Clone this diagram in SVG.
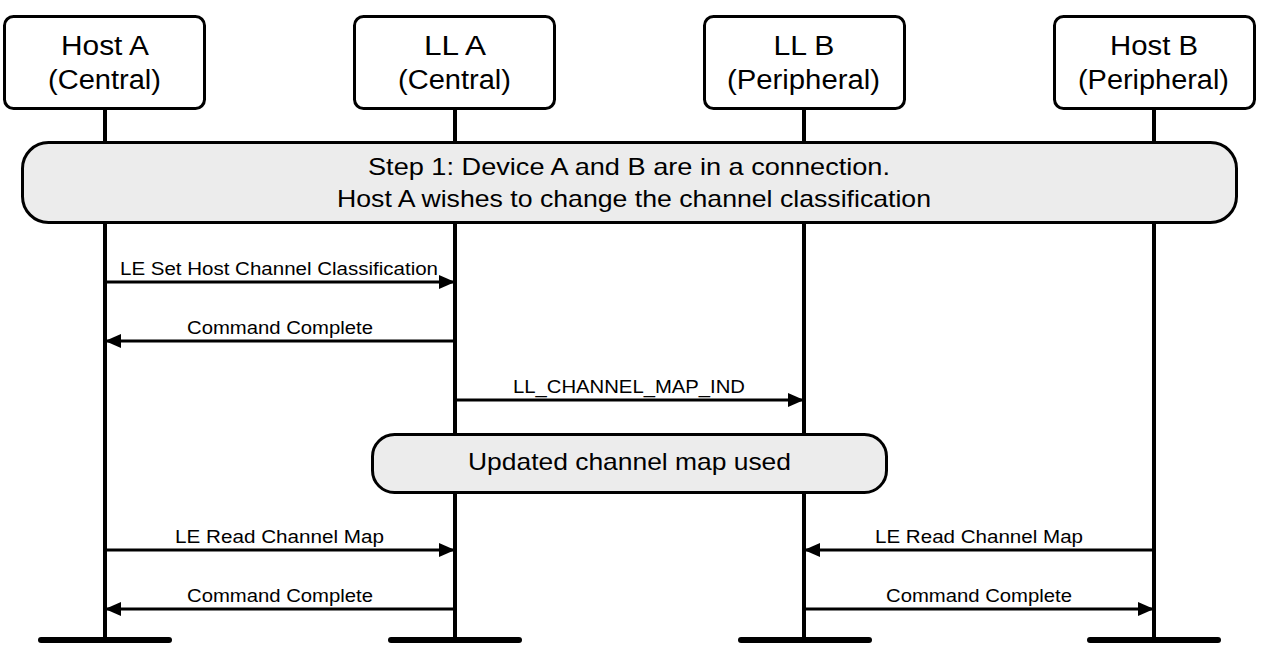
<svg xmlns="http://www.w3.org/2000/svg" width="1263" height="650" viewBox="0 0 1263 650">
<style>
.box{fill:#fff;stroke:#000;stroke-width:3}
.band{fill:#ececec;stroke:#000;stroke-width:3}
.life{stroke:#000;stroke-width:4}
.base{stroke:#000;stroke-width:6;stroke-linecap:round}
.msg{stroke:#000;stroke-width:3;fill:none}
.t{font-family:"Liberation Sans",Arial,sans-serif;fill:#000;text-anchor:middle}
.nt{font-size:27px}
.bt{font-size:24px}
.mt{font-size:17.5px}
</style>
<defs>
<marker id="ah" markerUnits="userSpaceOnUse" markerWidth="18" markerHeight="14" refX="16" refY="7" orient="auto">
<path d="M0,0 L16,7 L0,14 Z" fill="#000"/>
</marker>
</defs>
<g id="lifelines">
<line class="life" x1="105" y1="109" x2="105" y2="640"/>
<line class="life" x1="455" y1="109" x2="455" y2="640"/>
<line class="life" x1="804" y1="109" x2="804" y2="640"/>
<line class="life" x1="1154" y1="109" x2="1154" y2="640"/>
<line class="base" x1="41" y1="640" x2="169" y2="640"/>
<line class="base" x1="391" y1="640" x2="519" y2="640"/>
<line class="base" x1="741" y1="640" x2="869" y2="640"/>
<line class="base" x1="1090" y1="640" x2="1218" y2="640"/>
</g>
<g id="hostA">
<rect class="box" x="4.5" y="16.5" width="200" height="92" rx="9"/>
<text class="t nt" x="105" y="55" textLength="88" lengthAdjust="spacingAndGlyphs">Host A</text>
<text class="t nt" x="104.5" y="89" textLength="113" lengthAdjust="spacingAndGlyphs">(Central)</text>
</g>
<g id="llA">
<rect class="box" x="354.5" y="16.5" width="200" height="92" rx="9"/>
<text class="t nt" x="455" y="55" textLength="62" lengthAdjust="spacingAndGlyphs">LL A</text>
<text class="t nt" x="454.5" y="89" textLength="113" lengthAdjust="spacingAndGlyphs">(Central)</text>
</g>
<g id="llB">
<rect class="box" x="704.5" y="16.5" width="200" height="92" rx="9"/>
<text class="t nt" x="804" y="55" textLength="61" lengthAdjust="spacingAndGlyphs">LL B</text>
<text class="t nt" x="803.5" y="89" textLength="153" lengthAdjust="spacingAndGlyphs">(Peripheral)</text>
</g>
<g id="hostB">
<rect class="box" x="1054.5" y="16.5" width="200" height="92" rx="9"/>
<text class="t nt" x="1154" y="55" textLength="88" lengthAdjust="spacingAndGlyphs">Host B</text>
<text class="t nt" x="1153.5" y="89" textLength="151" lengthAdjust="spacingAndGlyphs">(Peripheral)</text>
</g>
<g id="step1">
<rect class="band" x="22.5" y="142.5" width="1214" height="80" rx="26"/>
<text class="t bt" x="629" y="175" textLength="522" lengthAdjust="spacingAndGlyphs">Step 1:  Device A and B are in a connection.</text>
<text class="t bt" x="634" y="207" textLength="594" lengthAdjust="spacingAndGlyphs">Host A wishes to change the channel classification</text>
</g>
<g id="updated">
<rect class="band" x="372.5" y="434.5" width="514" height="58" rx="22"/>
<text class="t bt" x="629.5" y="470" textLength="323" lengthAdjust="spacingAndGlyphs">Updated channel map used</text>
</g>
<g id="connectors">
<line class="msg" x1="105" y1="282" x2="455" y2="282" marker-end="url(#ah)"/>
<line class="msg" x1="455" y1="341" x2="105" y2="341" marker-end="url(#ah)"/>
<line class="msg" x1="455" y1="400" x2="804" y2="400" marker-end="url(#ah)"/>
<line class="msg" x1="105" y1="550" x2="455" y2="550" marker-end="url(#ah)"/>
<line class="msg" x1="455" y1="609" x2="105" y2="609" marker-end="url(#ah)"/>
<line class="msg" x1="1154" y1="550" x2="804" y2="550" marker-end="url(#ah)"/>
<line class="msg" x1="804" y1="609" x2="1154" y2="609" marker-end="url(#ah)"/>
<text class="t mt" x="279" y="275" textLength="318" lengthAdjust="spacingAndGlyphs">LE Set Host Channel Classification</text>
<text class="t mt" x="280" y="334" textLength="186" lengthAdjust="spacingAndGlyphs">Command Complete</text>
<text class="t mt" x="629" y="393" textLength="232" lengthAdjust="spacingAndGlyphs">LL_CHANNEL_MAP_IND</text>
<text class="t mt" x="279.5" y="543" textLength="209" lengthAdjust="spacingAndGlyphs">LE Read Channel Map</text>
<text class="t mt" x="280" y="602" textLength="186" lengthAdjust="spacingAndGlyphs">Command Complete</text>
<text class="t mt" x="979" y="543" textLength="208" lengthAdjust="spacingAndGlyphs">LE Read Channel Map</text>
<text class="t mt" x="979" y="602" textLength="186" lengthAdjust="spacingAndGlyphs">Command Complete</text>
</g>
</svg>
